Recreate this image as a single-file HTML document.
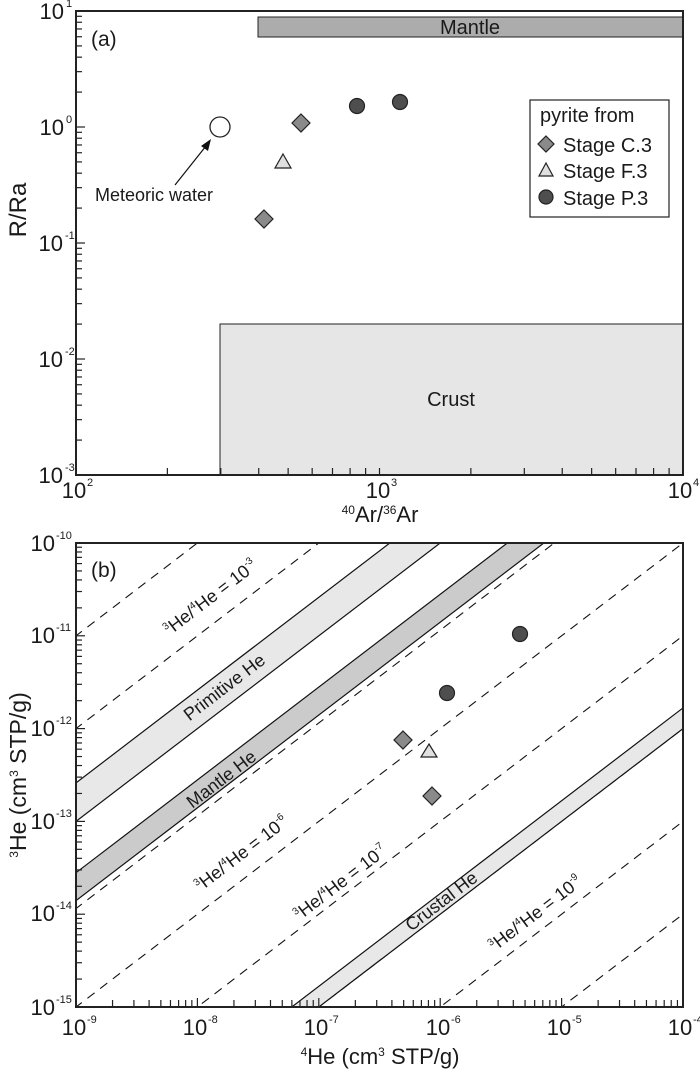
<!DOCTYPE html>
<html><head><meta charset="utf-8"><style>
html,body{margin:0;padding:0;background:#fff;overflow:hidden;width:700px;height:1073px}
svg{display:block}
text{font-family:"Liberation Sans",Arial,sans-serif;fill:#1a1a1a}
</style></head><body>
<svg id="s" width="700" height="1073" viewBox="0 0 700 1073" xmlns="http://www.w3.org/2000/svg">
<defs>
<clipPath id="cb"><rect x="76" y="543" width="607" height="464"/></clipPath>
</defs>
<rect width="700" height="1073" fill="#fff"/>
<!-- Panel a -->
<rect x="258" y="17" width="425" height="20" fill="#acacac" stroke="#222" stroke-width="1"/>
<rect x="220" y="324" width="463" height="151" fill="#e6e6e6" stroke="#222" stroke-width="1"/>
<g id="ga"></g>
<rect x="76" y="11" width="607" height="464" fill="none" stroke="#222" stroke-width="2"/>
<text x="470" y="34" font-size="20" text-anchor="middle">Mantle</text>
<text x="451" y="406" font-size="20" text-anchor="middle">Crust</text>
<text x="91" y="46" font-size="21">(a)</text>
<text x="95" y="201" font-size="18">Meteoric water</text>
<line x1="175" y1="185" x2="206" y2="146" stroke="#111" stroke-width="1.2"/>
<polygon points="211,139 208,151 201,146" fill="#111"/>
<circle cx="220" cy="127" r="10" fill="#fff" stroke="#222" stroke-width="1.3"/>
<polygon points="301,114 310,123 301,132 292,123" fill="#8a8a8a" stroke="#222" stroke-width="1.2"/>
<polygon points="264,210 273,219 264,228 255,219" fill="#8a8a8a" stroke="#222" stroke-width="1.2"/>
<polygon points="283,154 291,168 275,168" fill="#e0e0e0" stroke="#222" stroke-width="1.2"/>
<circle cx="357" cy="106" r="7.5" fill="#4e4e4e" stroke="#222" stroke-width="1.2"/>
<circle cx="400" cy="102" r="7.5" fill="#4e4e4e" stroke="#222" stroke-width="1.2"/>
<rect x="530" y="100" width="139" height="117" fill="#fff" stroke="#222" stroke-width="1.2"/>
<text x="540" y="122" font-size="20">pyrite from</text>
<polygon points="546,136 554,144 546,152 538,144" fill="#8a8a8a" stroke="#222" stroke-width="1.2"/>
<text x="563" y="152" font-size="20">Stage C.3</text>
<polygon points="546,163 553,176 539,176" fill="#e0e0e0" stroke="#222" stroke-width="1.2"/>
<text x="563" y="178" font-size="20">Stage F.3</text>
<circle cx="546" cy="197" r="7" fill="#4e4e4e" stroke="#222" stroke-width="1.2"/>
<text x="563" y="205" font-size="20">Stage P.3</text>
<!-- a tick labels -->
<g font-size="22">
<text x="64" y="19" text-anchor="end">10</text><text x="66" y="7" font-size="11">1</text>
<text x="64" y="135" text-anchor="end">10</text><text x="66" y="123" font-size="11">0</text>
<text x="63" y="251" text-anchor="end">10</text><text x="65" y="239" font-size="11">-1</text>
<text x="63" y="367" text-anchor="end">10</text><text x="65" y="355" font-size="11">-2</text>
<text x="63" y="483" text-anchor="end">10</text><text x="65" y="471" font-size="11">-3</text>
</g>
<g font-size="22">
<text x="74" y="498" text-anchor="middle">10</text><text x="87" y="486" font-size="11">2</text>
<text x="378" y="498" text-anchor="middle">10</text><text x="391" y="486" font-size="11">3</text>
<text x="680" y="498" text-anchor="middle">10</text><text x="693" y="486" font-size="11">4</text>
<text x="380" y="522" text-anchor="middle"><tspan font-size="12" dy="-8">40</tspan><tspan dy="8">Ar/</tspan><tspan font-size="12" dy="-8">36</tspan><tspan dy="8">Ar</tspan></text>
</g>
<text transform="translate(26,210) rotate(-90)" font-size="24" text-anchor="middle">R/Ra</text>

<!-- Panel b -->
<g id="gb" clip-path="url(#cb)"></g>
<g id="gbt"></g>
<rect x="76" y="543" width="607" height="464" fill="none" stroke="#222" stroke-width="2"/>
<text x="91" y="577" font-size="21">(b)</text>
<g font-size="18" text-anchor="middle">
<text transform="translate(214,602) rotate(-37.4)"><tspan font-size="10" dy="-7">3</tspan><tspan dy="7">He/</tspan><tspan font-size="10" dy="-7">4</tspan><tspan dy="7">He = 10</tspan><tspan font-size="10" dy="-8">-3</tspan></text>
<text transform="translate(228,692) rotate(-37.4)">Primitive He</text>
<text transform="translate(225,784) rotate(-37.4)">Mantle He</text>
<text transform="translate(245,858) rotate(-37.4)"><tspan font-size="10" dy="-7">3</tspan><tspan dy="7">He/</tspan><tspan font-size="10" dy="-7">4</tspan><tspan dy="7">He = 10</tspan><tspan font-size="10" dy="-8">-6</tspan></text>
<text transform="translate(344,887) rotate(-37.4)"><tspan font-size="10" dy="-7">3</tspan><tspan dy="7">He/</tspan><tspan font-size="10" dy="-7">4</tspan><tspan dy="7">He = 10</tspan><tspan font-size="10" dy="-8">-7</tspan></text>
<text transform="translate(445,906) rotate(-37.4)">Crustal He</text>
<text transform="translate(539,918) rotate(-37.4)"><tspan font-size="10" dy="-7">3</tspan><tspan dy="7">He/</tspan><tspan font-size="10" dy="-7">4</tspan><tspan dy="7">He = 10</tspan><tspan font-size="10" dy="-8">-9</tspan></text>
</g>
<circle cx="520" cy="634" r="7.5" fill="#4e4e4e" stroke="#222" stroke-width="1.2"/>
<circle cx="447" cy="693" r="7.5" fill="#4e4e4e" stroke="#222" stroke-width="1.2"/>
<polygon points="403,731 412,740 403,749 394,740" fill="#8a8a8a" stroke="#222" stroke-width="1.2"/>
<polygon points="432,787 441,796 432,805 423,796" fill="#8a8a8a" stroke="#222" stroke-width="1.2"/>
<polygon points="429,744 437,757 421,757" fill="#e0e0e0" stroke="#222" stroke-width="1.2"/>
<g font-size="22">
<text x="55" y="551" text-anchor="end">10</text><text x="56" y="539" font-size="11">-10</text>
<text x="55" y="643" text-anchor="end">10</text><text x="56" y="631" font-size="11">-11</text>
<text x="55" y="736" text-anchor="end">10</text><text x="56" y="724" font-size="11">-12</text>
<text x="55" y="829" text-anchor="end">10</text><text x="56" y="817" font-size="11">-13</text>
<text x="55" y="921" text-anchor="end">10</text><text x="56" y="909" font-size="11">-14</text>
<text x="55" y="1015" text-anchor="end">10</text><text x="56" y="1003" font-size="11">-15</text>
</g>
<g font-size="22">
<text x="74" y="1035" text-anchor="middle">10</text><text x="87" y="1023" font-size="11">-9</text>
<text x="195" y="1035" text-anchor="middle">10</text><text x="208" y="1023" font-size="11">-8</text>
<text x="316" y="1035" text-anchor="middle">10</text><text x="329" y="1023" font-size="11">-7</text>
<text x="438" y="1035" text-anchor="middle">10</text><text x="451" y="1023" font-size="11">-6</text>
<text x="559" y="1035" text-anchor="middle">10</text><text x="572" y="1023" font-size="11">-5</text>
<text x="680" y="1035" text-anchor="middle">10</text><text x="693" y="1023" font-size="11">-4</text>
<text x="380" y="1064" text-anchor="middle"><tspan font-size="12" dy="-8">4</tspan><tspan dy="8">He (cm</tspan><tspan font-size="12" dy="-8">3</tspan><tspan dy="8"> STP/g)</tspan></text>
</g>
<text transform="translate(26,775) rotate(-90)" font-size="23" text-anchor="middle"><tspan font-size="12" dy="-8">3</tspan><tspan dy="8">He (cm</tspan><tspan font-size="12" dy="-8">3</tspan><tspan dy="8"> STP/g)</tspan></text>
</svg>
<script>
(function(){
var NS="http://www.w3.org/2000/svg";
function el(p,n,a){var e=document.createElementNS(NS,n);for(var k in a)e.setAttribute(k,a[k]);p.appendChild(e);return e;}
var L=Math.log10;
var ga=document.getElementById('ga');
function AX(v){return 76+303.5*L(v/100);}
function AY(v){return 127-116*L(v);}
for(var d=-3;d<1;d++)for(var m=1;m<10;m++){var y=AY(m*Math.pow(10,d));el(ga,'line',{x1:76,x2:m==1?85:82,y1:y,y2:y,stroke:'#222','stroke-width':1.2});}
for(var d=2;d<4;d++)for(var m=1;m<10;m++){var x=AX(m*Math.pow(10,d));el(ga,'line',{x1:x,x2:x,y1:475,y2:468,stroke:'#222','stroke-width':1.2});}
function BX(v){return 76+121.4*(L(v)+9);}
function BY(v){return 543+92.8*(-10-L(v));}
var gb=document.getElementById('gb');
function band(r1,r2,f){
 var x0=1e-9,x1=1e-4;
 el(gb,'polygon',{points:[BX(x0)+','+BY(x0*r1),BX(x1)+','+BY(x1*r1),BX(x1)+','+BY(x1*r2),BX(x0)+','+BY(x0*r2)].join(' '),fill:f,stroke:'none'});
 [r1,r2].forEach(function(r){el(gb,'line',{x1:BX(x0),y1:BY(x0*r),x2:BX(x1),y2:BY(x1*r),stroke:'#111','stroke-width':1.2});});
}
function dash(r){var x0=1e-11,x1=1e-4;el(gb,'line',{x1:BX(x0),y1:BY(x0*r),x2:BX(x1),y2:BY(x1*r),stroke:'#111','stroke-width':1.1,'stroke-dasharray':'9,7'});}
[1e-2,1e-3,1.15e-5,1e-6,1e-7,1e-8,1e-9,1e-10].forEach(dash);
band(2.6e-4,1e-4,'#e8e8e8');
band(2.8e-5,1.4e-5,'#cbcbcb');
band(1.67e-8,1e-8,'#e8e8e8');
var gt=document.getElementById('gbt');
for(var d=-15;d<-10;d++)for(var m=1;m<10;m++){var y=BY(m*Math.pow(10,d));el(gt,'line',{x1:76,x2:m==1?85:82,y1:y,y2:y,stroke:'#222','stroke-width':1.2});}
for(var d=-9;d<-4;d++)for(var m=1;m<10;m++){var x=BX(m*Math.pow(10,d));el(gt,'line',{x1:x,x2:x,y1:1007,y2:m==1?998:1000,stroke:'#222','stroke-width':1.2});}
})();
</script>
</body></html>
